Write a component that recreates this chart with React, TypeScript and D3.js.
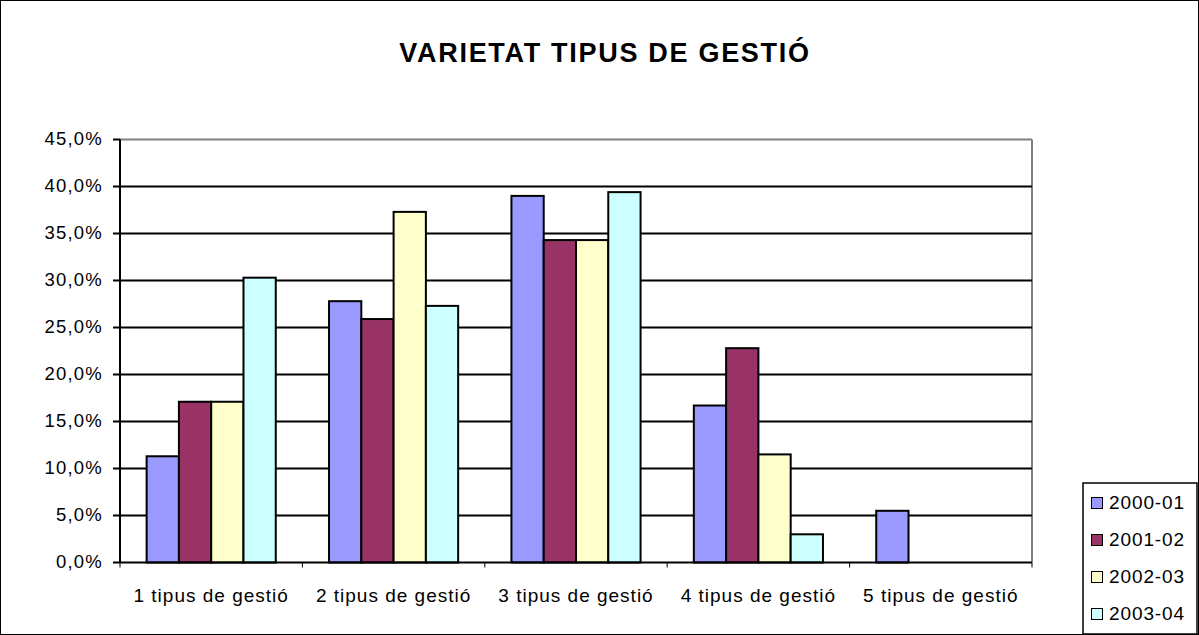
import React from "react";
import * as d3 from "d3";

const categories = ["1 tipus de gestió", "2 tipus de gestió", "3 tipus de gestió", "4 tipus de gestió", "5 tipus de gestió"];
const seriesNames = ["2000-01", "2001-02", "2002-03", "2003-04"];
const s2000 = [11.3, 27.8, 39.0, 16.7, 5.5];
const s2001 = [17.1, 25.9, 34.3, 22.8, 0];
const s2002 = [17.1, 37.3, 34.3, 11.5, 0];
const s2003 = [30.3, 27.3, 39.4, 3.0, 0];
const yTicks = [0, 5, 10, 15, 20, 25, 30, 35, 40, 45];
const colors = ["#9999FF", "#993366", "#FFFFCC", "#CCFFFF"];

export default function App() {
  const W = 1199, H = 635;
  const left = 120, right = 1032, top = 139.5, bottom = 562.5;
  const series = [s2000, s2001, s2002, s2003];
  const x = d3.scaleBand().domain(categories).range([left, right]).paddingInner(0).paddingOuter(0);
  const gap = 1.65;
  const bw = x.bandwidth() / (4 + gap);
  const y = d3.scaleLinear().domain([0, 45]).range([bottom, top]);
  const font = "'Liberation Sans', Arial, sans-serif";
  return (
    <svg width={W} height={H} style={{ position: "absolute", left: 0, top: 0 }}>
      <rect x={0.5} y={0.5} width={W - 1} height={H - 1} fill="#fff" stroke="#000" strokeWidth={1} />
      <text x={605} y={62} textAnchor="middle" fontFamily={font} fontWeight="bold" fontSize={27} letterSpacing={1.7}>VARIETAT TIPUS DE GESTIÓ</text>
      {/* plot border */}
      <line x1={left} x2={right} y1={top} y2={top} stroke="#808080" strokeWidth={2} />
      <line x1={right} x2={right} y1={top} y2={bottom} stroke="#808080" strokeWidth={2} />
      {yTicks.filter(t => t > 0 && t < 45).map(t => (
        <line key={t} x1={left} x2={right} y1={y(t)} y2={y(t)} stroke="#000" strokeWidth={2} />
      ))}
      {categories.map((c, ci) => series.map((s, si) => {
        const v = s[ci];
        if (!v) return null;
        const bx = (x(c) as number) + bw * gap / 2 + si * bw;
        return <rect key={c + si} x={bx} y={y(v)} width={bw} height={y(0) - y(v)} fill={colors[si]} stroke="#000" strokeWidth={2} />;
      }))}
      {/* axes */}
      <line x1={left} x2={left} y1={top} y2={bottom} stroke="#000" strokeWidth={2} />
      <line x1={left} x2={right} y1={bottom} y2={bottom} stroke="#000" strokeWidth={2} />
      {yTicks.map(t => (
        <g key={t}>
          <line x1={left - 7} x2={left} y1={y(t)} y2={y(t)} stroke="#000" strokeWidth={2} />
          <text x={103} y={y(t) + 5} textAnchor="end" fontFamily={font} fontSize={18.5} letterSpacing={1.2}>{t.toFixed(1).replace(".", ",") + "%"}</text>
        </g>
      ))}
      {categories.map((c, i) => (
        <g key={c}>
          <line x1={(x(c) as number)} x2={(x(c) as number)} y1={bottom} y2={bottom + 5} stroke="#000" strokeWidth={1} />
          <text x={(x(c) as number) + x.bandwidth() / 2} y={602} textAnchor="middle" fontFamily={font} fontSize={19} letterSpacing={1}>{c}</text>
        </g>
      ))}
      <line x1={right} x2={right} y1={bottom} y2={bottom + 5} stroke="#000" strokeWidth={1} />
      {/* legend */}
      <rect x={1083} y={483} width={114} height={151} fill="#fff" stroke="#000" strokeWidth={1.5} />
      {seriesNames.map((n, i) => (
        <g key={n}>
          <rect x={1091.5} y={497.5 + i * 37} width={11} height={11} fill={colors[i]} stroke="#000" strokeWidth={1} />
          <text x={1109} y={509 + i * 37} fontFamily={font} fontSize={19} letterSpacing={0.9}>{n}</text>
        </g>
      ))}
    </svg>
  );
}
